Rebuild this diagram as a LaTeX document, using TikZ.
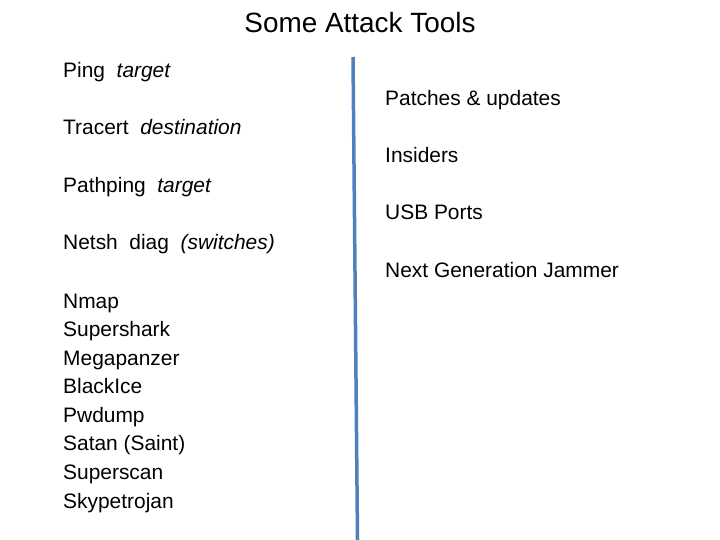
\documentclass[tikz,border=0pt]{standalone}
\usepackage{fontspec}
\setmainfont{Liberation Sans}
\begin{document}
\begin{tikzpicture}[x=1bp,y=-1bp,
  txt/.style={anchor=base west,inner sep=0,font=\fontsize{21}{21}\selectfont},
  ttl/.style={anchor=base,inner sep=0,font=\fontsize{28}{28}\selectfont}]
\useasboundingbox (0,0) rectangle (720,540);
\node[ttl] (title) at (360,33) {Some Attack Tools};
\node[txt] (l1) at (63,78) {Ping \ \textit{target}};
\node[txt] (l2) at (63,135) {Tracert \ \textit{destination}};
\node[txt] (l3) at (63,193) {Pathping \ \textit{target}};
\node[txt] (l4) at (63,250) {Netsh \ diag \ \textit{(switches)}};
\node[txt] (l5) at (63,308) {Nmap};
\node[txt] (l6) at (63,336.5) {Supershark};
\node[txt] (l7) at (63,365) {Megapanzer};
\node[txt] (l8) at (63,393.5) {BlackIce};
\node[txt] (l9) at (63,422) {Pwdump};
\node[txt] (l10) at (63,450.5) {Satan (Saint)};
\node[txt] (l11) at (63,479) {Superscan};
\node[txt] (l12) at (63,508) {Skypetrojan};
\node[txt] (r1) at (385,106) {Patches \& updates};
\node[txt] (r2) at (385,163) {Insiders};
\node[txt] (r3) at (385,220) {USB Ports};
\node[txt] (r4) at (385,278) {Next Generation Jammer};
\coordinate (a) at (353,57);
\coordinate (b) at (357.5,540);
\draw[line width=3.5bp,color={rgb,255:red,79;green,129;blue,189}] (a) -- (b);
\end{tikzpicture}
\end{document}
